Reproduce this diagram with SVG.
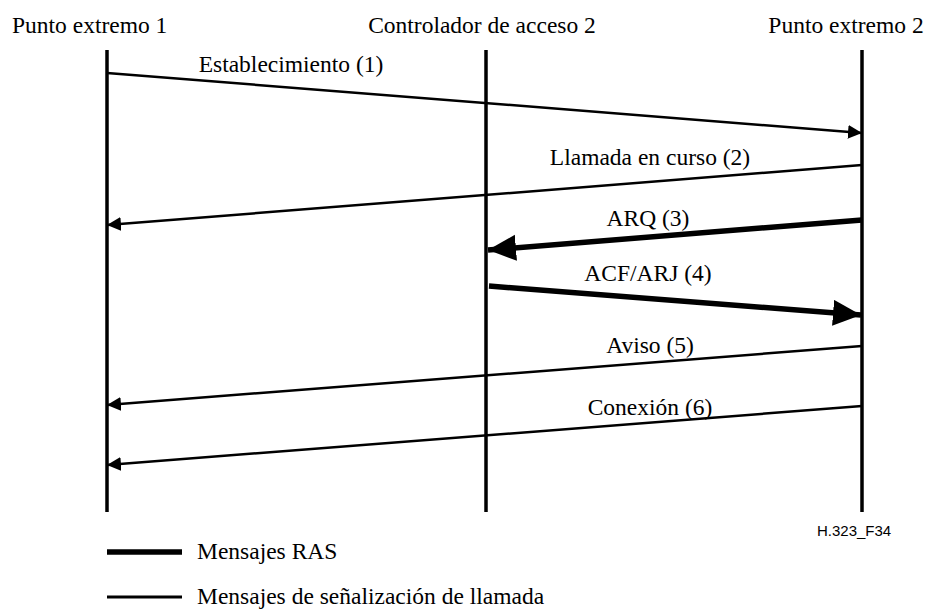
<svg xmlns="http://www.w3.org/2000/svg" width="927" height="610" viewBox="0 0 927 610">
<style>
  text.t { font-family: 'Liberation Serif', 'Times New Roman', serif; font-size: 23.5px; fill: #000; }
  text.m { text-anchor: middle; }
  .life { stroke: #000; stroke-width: 3.5; fill: none; }
  .thin { stroke: #000; stroke-width: 2.5; fill: none; }
  .thick { stroke: #000; stroke-width: 5.5; fill: none; }
  text.ref { font-family: 'Liberation Sans', Arial, sans-serif; font-size: 15px; fill: #000; }
</style>
<defs>
  <marker id="ah" markerUnits="userSpaceOnUse" markerWidth="15" markerHeight="15" refX="14" refY="7" orient="auto">
    <path d="M0,0 L14,7 L0,14 z" fill="#000"/>
  </marker>
  <marker id="ahb" markerUnits="userSpaceOnUse" markerWidth="29" markerHeight="27" refX="28" refY="13" orient="auto">
    <path d="M0,0 L28,13 L0,26 z" fill="#000"/>
  </marker>
</defs>
<g id="ep1">
  <text class="t" x="12" y="33">Punto extremo 1</text>
  <line class="life" x1="107" y1="50" x2="107" y2="512"/>
</g>
<g id="gk2">
  <text class="t m" x="482" y="33">Controlador de acceso 2</text>
  <line class="life" x1="486" y1="50" x2="486" y2="512"/>
</g>
<g id="ep2">
  <text class="t m" x="846" y="33">Punto extremo 2</text>
  <line class="life" x1="862" y1="50" x2="862" y2="512"/>
</g>
<g id="connectors">
  <line class="thin" x1="107" y1="73" x2="862" y2="133" marker-end="url(#ah)"/>
  <text class="t m" x="291" y="72">Establecimiento (1)</text>
  <line class="thin" x1="862" y1="165" x2="107" y2="225" marker-end="url(#ah)"/>
  <text class="t m" x="650" y="165">Llamada en curso (2)</text>
  <line class="thick" x1="862" y1="220" x2="488" y2="250" marker-end="url(#ahb)"/>
  <text class="t m" x="648" y="226">ARQ (3)</text>
  <line class="thick" x1="489" y1="286" x2="861" y2="315" marker-end="url(#ahb)"/>
  <text class="t m" x="648" y="281">ACF/ARJ (4)</text>
  <line class="thin" x1="862" y1="346" x2="107" y2="405" marker-end="url(#ah)"/>
  <text class="t m" x="650" y="353">Aviso (5)</text>
  <line class="thin" x1="862" y1="406" x2="107" y2="465" marker-end="url(#ah)"/>
  <text class="t m" x="650" y="415">Conexión (6)</text>
</g>
<g id="figref">
  <text class="ref" x="817" y="536">H.323_F34</text>
</g>
<g id="legend">
  <line class="thick" x1="107" y1="552" x2="182" y2="552"/>
  <text class="t" x="197" y="559">Mensajes RAS</text>
  <line class="thin" x1="107" y1="597" x2="182" y2="597" style="stroke-width:3"/>
  <text class="t" x="197" y="604">Mensajes de señalización de llamada</text>
</g>
</svg>
